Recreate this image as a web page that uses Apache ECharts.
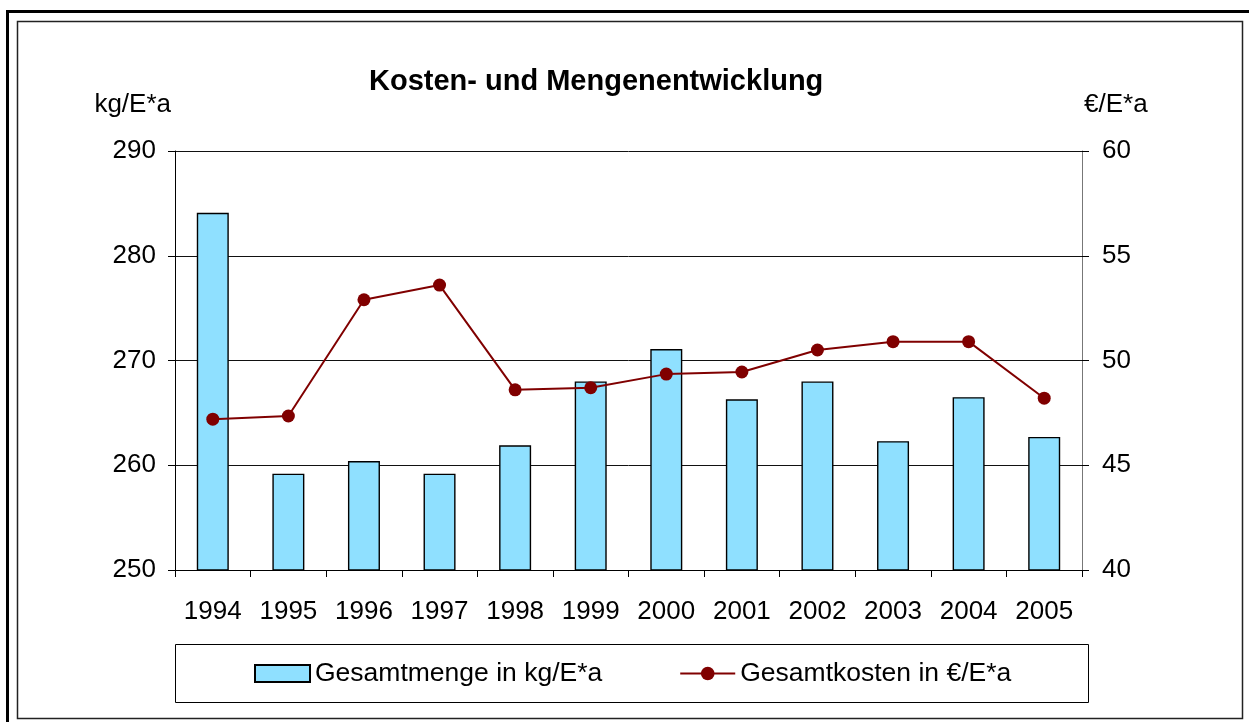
<!DOCTYPE html>
<html>
<head>
<meta charset="utf-8">
<script src="https://cdn.jsdelivr.net/npm/echarts@6/dist/echarts.min.js"></script>
<style>
  html, body { margin: 0; padding: 0; background: #fff; }
  #chart { width: 1249px; height: 722px; }
</style>
</head>
<body>
<div id="chart"></div>
<script>
const years = ["1994", "1995", "1996", "1997", "1998", "1999", "2000", "2001", "2002", "2003", "2004", "2005"];
const menge = [284.1, 259.2, 260.4, 259.2, 261.9, 268.0, 271.1, 266.3, 268.0, 262.3, 266.5, 262.7];
const kosten = [47.2, 47.35, 52.9, 53.6, 48.6, 48.7, 49.35, 49.45, 50.5, 50.9, 50.9, 48.2];

const font = "Liberation Sans, Arial, sans-serif";

const chartDom = document.getElementById("chart");
const myChart = echarts.init(chartDom);

const option = {
  animation: false,
  textStyle: { fontFamily: font },
  title: {
    text: "Kosten- und Mengenentwicklung",
    left: 369,
    top: 67,
    padding: 0,
    textStyle: { fontSize: 29, fontWeight: "bold", color: "#000", fontFamily: font },
  },
  graphic: [
    {
      type: "rect",
      shape: { x: 7.5, y: 11.5, width: 1260, height: 730 },
      style: { fill: "none", stroke: "#000", lineWidth: 3 },
      silent: true,
    },
    {
      type: "rect",
      shape: { x: 17.5, y: 21.5, width: 1225, height: 697 },
      style: { fill: "none", stroke: "#222", lineWidth: 1.5 },
      silent: true,
    },
    {
      type: "rect",
      shape: { x: 175.5, y: 644.5, width: 913, height: 58 },
      style: { fill: "none", stroke: "#000", lineWidth: 1 },
      silent: true,
    },
  ],
  legend: {
    left: 249,
    top: 655,
    itemWidth: 55,
    itemHeight: 17,
    itemGap: 77,
    textStyle: { fontSize: 26.5, color: "#000", fontFamily: font },
    data: [
      { name: "Gesamtmenge in kg/E*a", icon: "rect" },
      { name: "Gesamtkosten in €/E*a" },
    ],
  },
  grid: {
    left: 175,
    right: 167,
    top: 151,
    bottom: 152,
  },
  xAxis: {
    type: "category",
    data: years,
    axisLine: { lineStyle: { color: "#000", width: 1 } },
    axisTick: { show: true, length: 7, lineStyle: { color: "#000" } },
    axisLabel: { fontSize: 26, color: "#000", margin: 29, fontFamily: font },
  },
  yAxis: [
    {
      type: "value",
      name: "kg/E*a",
      nameLocation: "end",
      nameGap: 33,
      nameTextStyle: { fontSize: 26, color: "#000", align: "right", padding: [0, 4, 0, 0], fontFamily: font },
      min: 250,
      max: 290,
      interval: 10,
      axisLine: { show: true, lineStyle: { color: "#000" } },
      axisTick: { show: true, length: 7, lineStyle: { color: "#000" } },
      axisLabel: { fontSize: 26, color: "#000", margin: 19, fontFamily: font },
      splitLine: { show: true, lineStyle: { color: "#111", width: 1 } },
    },
    {
      type: "value",
      name: "€/E*a",
      nameLocation: "end",
      nameGap: 33,
      nameTextStyle: { fontSize: 26, color: "#000", align: "left", padding: [0, 0, 0, 2], fontFamily: font },
      min: 40,
      max: 60,
      interval: 5,
      axisLine: { show: true, lineStyle: { color: "#777" } },
      axisTick: { show: true, length: 7, lineStyle: { color: "#000" } },
      axisLabel: { fontSize: 26, color: "#000", margin: 20, fontFamily: font },
      splitLine: { show: false },
    },
  ],
  series: [
    {
      name: "Gesamtmenge in kg/E*a",
      type: "bar",
      data: menge,
      barWidth: 32,
      itemStyle: { color: "#8fe0ff", borderColor: "#000", borderWidth: 1.4 },
    },
    {
      name: "Gesamtkosten in €/E*a",
      type: "line",
      yAxisIndex: 1,
      data: kosten,
      symbol: "circle",
      symbolSize: 13,
      lineStyle: { color: "#800000", width: 2 },
      itemStyle: { color: "#800000" },
    },
  ],
};

myChart.setOption(option);

window.addEventListener("resize", function () {
  myChart.resize();
});
</script>
</body>
</html>
